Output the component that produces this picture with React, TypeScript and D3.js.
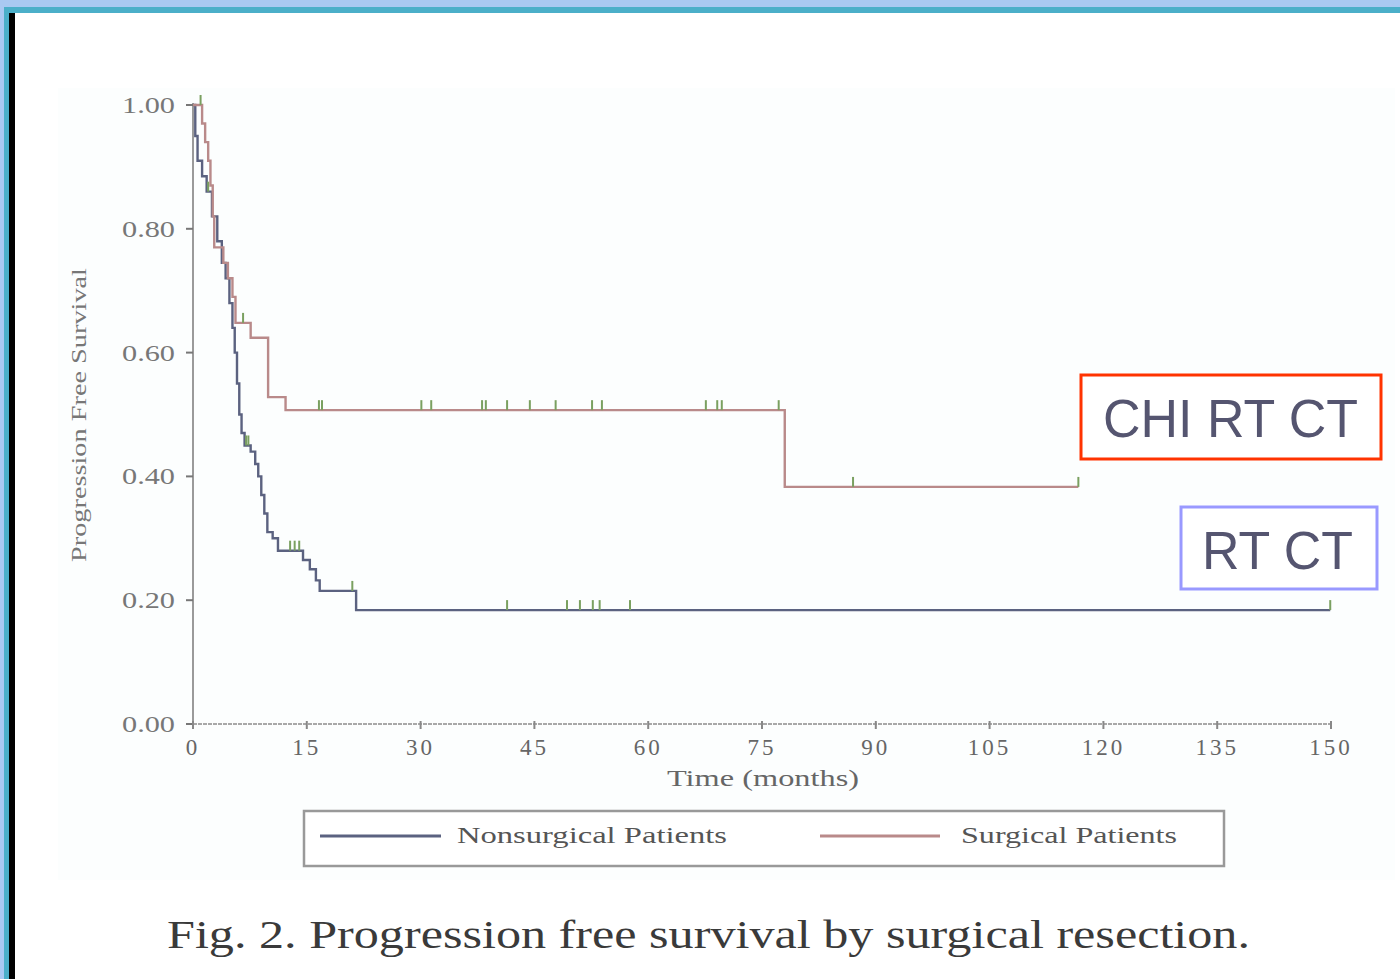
import React from "react";
import * as d3 from "d3";

// Kaplan-Meier steps (months, survival after the event)
const surgTimes = [0, 1.2, 1.6, 2.0, 2.3, 2.6, 2.8, 4.0, 4.6, 5.2, 5.6, 7.6, 9.9, 12.2, 78.0];
const surgSurv = [1.0, 0.97, 0.94, 0.91, 0.87, 0.82, 0.77, 0.745, 0.72, 0.69, 0.648, 0.624, 0.528, 0.507, 0.383];
const surgEnd = 116.7;
const surgCensor = [1.0, 6.6, 16.6, 17.0, 30.1, 31.4, 38.1, 38.6, 41.4, 44.4, 47.8, 52.6, 53.9, 67.6, 69.1, 69.7, 77.2, 87.0, 116.7];

const nonTimes = [0, 0.3, 0.6, 1.2, 1.8, 2.5, 3.2, 3.8, 4.3, 4.8, 5.2, 5.5, 5.8, 6.1, 6.4, 6.8, 7.6, 8.2, 8.6, 9.0, 9.4, 9.8, 10.5, 11.2, 14.5, 15.4, 16.2, 16.7, 21.5];
const nonSurv = [1.0, 0.95, 0.91, 0.885, 0.86, 0.82, 0.78, 0.745, 0.72, 0.68, 0.64, 0.6, 0.55, 0.5, 0.47, 0.45, 0.44, 0.42, 0.4, 0.37, 0.34, 0.31, 0.3, 0.28, 0.265, 0.25, 0.232, 0.215, 0.184];
const nonEnd = 149.9;
const nonCensor = [2.0, 7.0, 7.3, 12.8, 13.4, 14.0, 21.0, 41.4, 49.3, 51.0, 52.7, 53.6, 57.6, 149.9];

const xTicks = [0, 15, 30, 45, 60, 75, 90, 105, 120, 135, 150];
const yTicks = [0, 0.2, 0.4, 0.6, 0.8, 1.0];

const seriesNames = ["Nonsurgical Patients", "Surgical Patients"];
const captionText = "Fig. 2. Progression free survival by surgical resection.";

const W = 1400;
const H = 979;
const serif = "'Liberation Serif', 'DejaVu Serif', serif";
const sans = "'Liberation Sans', Arial, sans-serif";

const blue = "#5b6280";
const red = "#b98a8a";
const green = "#7aa060";

const x = d3.scaleLinear().domain([0, 150]).range([193, 1331]);
const y = d3.scaleLinear().domain([0, 1]).range([724, 105]);

const stepLine = d3
  .line<[number, number]>()
  .x((d) => x(d[0]))
  .y((d) => y(d[1]))
  .curve(d3.curveStepAfter);

function points(times: number[], surv: number[], end: number): [number, number][] {
  const p: [number, number][] = times.map((t, i) => [t, surv[i]]);
  p.push([end, surv[surv.length - 1]]);
  return p;
}

function survAt(times: number[], surv: number[], t: number) {
  const i = d3.bisectRight(times, t) - 1;
  return surv[Math.max(0, i)];
}

export default function App() {
  const surgPts = points(surgTimes, surgSurv, surgEnd);
  const nonPts = points(nonTimes, nonSurv, nonEnd);

  return (
    <svg
      width={W}
      height={H}
      style={{ position: "absolute", left: 0, top: 0, background: "#fff" }}
    >
      {/* frame */}
      <rect x={0} y={0} width={W} height={7} fill="#a9c9f2" />
      <rect x={0} y={7} width={W} height={6} fill="#4bafc9" />
      <rect x={0} y={0} width={4} height={H} fill="#a9c9f2" />
      <rect x={4} y={7} width={5} height={H} fill="#4bafc9" />
      <rect x={9} y={13} width={6} height={H} fill="#000" />

      {/* faint figure background */}
      <rect x={58} y={88} width={1337} height={792} fill="#fcfefe" />

      {/* y axis */}
      <line x1={x(0)} x2={x(0)} y1={y(1) - 2} y2={y(0)} stroke="#9a9a9a" strokeWidth={2} />
      {yTicks.map((t) => (
        <g key={t}>
          <line x1={x(0) - 7} x2={x(0)} y1={y(t)} y2={y(t)} stroke="#777" strokeWidth={2} />
          <text
            x={122}
            y={y(t) + 8}
            fontFamily={serif}
            fontSize={23}
            fill="#777"
            textLength={53}
            lengthAdjust="spacingAndGlyphs"
          >
            {t.toFixed(2)}
          </text>
        </g>
      ))}
      <text
        transform={`translate(86, ${415}) rotate(-90)`}
        textAnchor="middle"
        fontFamily={serif}
        fontSize={20}
        fill="#777"
        textLength={294}
        lengthAdjust="spacingAndGlyphs"
      >
        Progression Free Survival
      </text>

      {/* x axis */}
      <line
        x1={x(0)}
        x2={x(150)}
        y1={y(0)}
        y2={y(0)}
        stroke="#a8a8a8"
        strokeWidth={2}
        strokeDasharray="4 1"
      />
      {xTicks.map((t) => (
        <g key={t}>
          <line x1={x(t)} x2={x(t)} y1={y(0) - 3} y2={y(0) + 5} stroke="#888" strokeWidth={2} />
          <text
            x={x(t)}
            y={755}
            textAnchor="middle"
            fontFamily={serif}
            fontSize={23}
            fill="#666"
            letterSpacing={3}
          >
            {t}
          </text>
        </g>
      ))}
      <text
        x={763}
        y={786}
        textAnchor="middle"
        fontFamily={serif}
        fontSize={24}
        fill="#666"
        textLength={192}
        lengthAdjust="spacingAndGlyphs"
      >
        Time (months)
      </text>

      {/* curves */}
      <path d={stepLine(nonPts) || ""} fill="none" stroke={blue} strokeWidth={2.4} />
      <path d={stepLine(surgPts) || ""} fill="none" stroke={red} strokeWidth={2.4} />

      {/* censor marks */}
      {nonCensor.map((t, i) => {
        const s = survAt(nonTimes, nonSurv, t);
        return (
          <line
            key={"n" + i}
            x1={x(t)}
            x2={x(t)}
            y1={y(s) - 10}
            y2={y(s)}
            stroke={green}
            strokeWidth={2}
          />
        );
      })}
      {surgCensor.map((t, i) => {
        const s = survAt(surgTimes, surgSurv, t);
        return (
          <line
            key={"s" + i}
            x1={x(t)}
            x2={x(t)}
            y1={y(s) - 10}
            y2={y(s)}
            stroke={green}
            strokeWidth={2}
          />
        );
      })}

      {/* legend */}
      <rect x={304} y={811} width={920} height={55} fill="#fff" stroke="#999" strokeWidth={2.5} />
      <line x1={320} x2={441} y1={836} y2={836} stroke={blue} strokeWidth={3} />
      <text
        x={457}
        y={843}
        fontFamily={serif}
        fontSize={24}
        fill="#555"
        textLength={270}
        lengthAdjust="spacingAndGlyphs"
      >
        {seriesNames[0]}
      </text>
      <line x1={820} x2={940} y1={836} y2={836} stroke={red} strokeWidth={3} />
      <text
        x={961}
        y={843}
        fontFamily={serif}
        fontSize={24}
        fill="#555"
        textLength={216}
        lengthAdjust="spacingAndGlyphs"
      >
        {seriesNames[1]}
      </text>

      {/* annotations */}
      <rect x={1081} y={375} width={300} height={84} fill="#fff" stroke="#ff3300" strokeWidth={3} />
      <text
        x={1103}
        y={437}
        fontFamily={sans}
        fontSize={53}
        fill="#555570"
        textLength={255}
        lengthAdjust="spacingAndGlyphs"
      >
        CHI RT CT
      </text>
      <rect x={1181} y={507} width={196} height={82} fill="#fff" stroke="#9999ff" strokeWidth={3} />
      <text
        x={1202}
        y={569}
        fontFamily={sans}
        fontSize={53}
        fill="#555570"
        textLength={151}
        lengthAdjust="spacingAndGlyphs"
      >
        RT CT
      </text>

      {/* caption */}
      <text
        x={167}
        y={948}
        fontFamily={serif}
        fontSize={41}
        fill="#3a3a3a"
        textLength={1083}
        lengthAdjust="spacingAndGlyphs"
      >
        {captionText}
      </text>
    </svg>
  );
}
